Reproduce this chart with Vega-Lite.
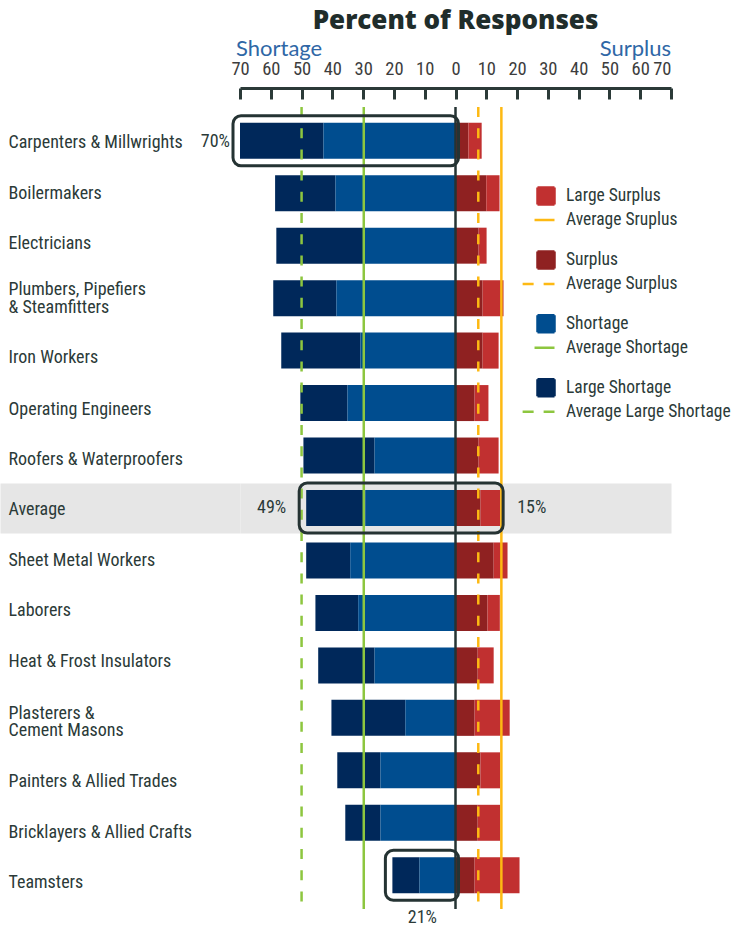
{
  "$schema": "https://vega.github.io/schema/vega-lite/v6.json",
  "width": 431,
  "height": 802,
  "autosize": {"type": "pad"},
  "padding": {"left": -25, "top": 8, "right": 0, "bottom": 0},
  "background": "white",
  "config": {"view": {"stroke": null}, "font": "Roboto Condensed, Roboto"},
  "title": {"text": "Percent of Responses", "font": "Open Sans", "fontWeight": 800, "fontSize": 26, "color": "#1f2d2b", "anchor": "middle", "frame": "group", "offset": 4},
  "datasets": {
    "bars": [
      {"occupation": "Carpenters & Millwrights", "category": "Large Shortage", "value": -27.1},
      {"occupation": "Carpenters & Millwrights", "category": "Shortage", "value": -42.9},
      {"occupation": "Carpenters & Millwrights", "category": "Surplus", "value": 4.2},
      {"occupation": "Carpenters & Millwrights", "category": "Large Surplus", "value": 4.3},
      {"occupation": "Boilermakers", "category": "Large Shortage", "value": -19.6},
      {"occupation": "Boilermakers", "category": "Shortage", "value": -39.0},
      {"occupation": "Boilermakers", "category": "Surplus", "value": 10.0},
      {"occupation": "Boilermakers", "category": "Large Surplus", "value": 4.3},
      {"occupation": "Electricians", "category": "Large Shortage", "value": -28.3},
      {"occupation": "Electricians", "category": "Shortage", "value": -29.9},
      {"occupation": "Electricians", "category": "Surplus", "value": 7.5},
      {"occupation": "Electricians", "category": "Large Surplus", "value": 2.6},
      {"occupation": "Plumbers, Pipefiers & Steamfitters", "category": "Large Shortage", "value": -20.5},
      {"occupation": "Plumbers, Pipefiers & Steamfitters", "category": "Shortage", "value": -38.7},
      {"occupation": "Plumbers, Pipefiers & Steamfitters", "category": "Surplus", "value": 8.8},
      {"occupation": "Plumbers, Pipefiers & Steamfitters", "category": "Large Surplus", "value": 6.8},
      {"occupation": "Iron Workers", "category": "Large Shortage", "value": -25.7},
      {"occupation": "Iron Workers", "category": "Shortage", "value": -30.9},
      {"occupation": "Iron Workers", "category": "Surplus", "value": 8.8},
      {"occupation": "Iron Workers", "category": "Large Surplus", "value": 5.2},
      {"occupation": "Operating Engineers", "category": "Large Shortage", "value": -15.3},
      {"occupation": "Operating Engineers", "category": "Shortage", "value": -35.1},
      {"occupation": "Operating Engineers", "category": "Surplus", "value": 6.2},
      {"occupation": "Operating Engineers", "category": "Large Surplus", "value": 4.5},
      {"occupation": "Roofers & Waterproofers", "category": "Large Shortage", "value": -23.1},
      {"occupation": "Roofers & Waterproofers", "category": "Shortage", "value": -26.3},
      {"occupation": "Roofers & Waterproofers", "category": "Surplus", "value": 7.5},
      {"occupation": "Roofers & Waterproofers", "category": "Large Surplus", "value": 6.5},
      {"occupation": "Average", "category": "Large Shortage", "value": -19.2},
      {"occupation": "Average", "category": "Shortage", "value": -29.3},
      {"occupation": "Average", "category": "Surplus", "value": 8.1},
      {"occupation": "Average", "category": "Large Surplus", "value": 6.4},
      {"occupation": "Sheet Metal Workers", "category": "Large Shortage", "value": -14.3},
      {"occupation": "Sheet Metal Workers", "category": "Shortage", "value": -34.2},
      {"occupation": "Sheet Metal Workers", "category": "Surplus", "value": 12.4},
      {"occupation": "Sheet Metal Workers", "category": "Large Surplus", "value": 4.5},
      {"occupation": "Laborers", "category": "Large Shortage", "value": -13.9},
      {"occupation": "Laborers", "category": "Shortage", "value": -31.6},
      {"occupation": "Laborers", "category": "Surplus", "value": 10.4},
      {"occupation": "Laborers", "category": "Large Surplus", "value": 4.0},
      {"occupation": "Heat & Frost Insulators", "category": "Large Shortage", "value": -18.3},
      {"occupation": "Heat & Frost Insulators", "category": "Shortage", "value": -26.3},
      {"occupation": "Heat & Frost Insulators", "category": "Surplus", "value": 7.2},
      {"occupation": "Heat & Frost Insulators", "category": "Large Surplus", "value": 5.2},
      {"occupation": "Plasterers & Cement Masons", "category": "Large Shortage", "value": -24.0},
      {"occupation": "Plasterers & Cement Masons", "category": "Shortage", "value": -16.3},
      {"occupation": "Plasterers & Cement Masons", "category": "Surplus", "value": 6.2},
      {"occupation": "Plasterers & Cement Masons", "category": "Large Surplus", "value": 11.4},
      {"occupation": "Painters & Allied Trades", "category": "Large Shortage", "value": -14.0},
      {"occupation": "Painters & Allied Trades", "category": "Shortage", "value": -24.4},
      {"occupation": "Painters & Allied Trades", "category": "Surplus", "value": 8.1},
      {"occupation": "Painters & Allied Trades", "category": "Large Surplus", "value": 6.4},
      {"occupation": "Bricklayers & Allied Crafts", "category": "Large Shortage", "value": -11.4},
      {"occupation": "Bricklayers & Allied Crafts", "category": "Shortage", "value": -24.4},
      {"occupation": "Bricklayers & Allied Crafts", "category": "Surplus", "value": 7.2},
      {"occupation": "Bricklayers & Allied Crafts", "category": "Large Surplus", "value": 7.3},
      {"occupation": "Teamsters", "category": "Large Shortage", "value": -8.8},
      {"occupation": "Teamsters", "category": "Shortage", "value": -11.7},
      {"occupation": "Teamsters", "category": "Surplus", "value": 6.2},
      {"occupation": "Teamsters", "category": "Large Surplus", "value": 14.6}
    ],
    "lines": [
      {"category": "Average Large Shortage", "value": -50, "dashed": true},
      {"category": "Average Shortage", "value": -29.8, "dashed": false},
      {"category": "Average Surplus", "value": 7.4, "dashed": true},
      {"category": "Average Sruplus", "value": 14.9, "dashed": false}
    ],
    "boxes": [
      {"occupation": "Carpenters & Millwrights", "from": -70, "to": 0},
      {"occupation": "Average", "from": -48.5, "to": 14.5},
      {"occupation": "Teamsters", "from": -20.5, "to": 0}
    ],
    "labels": [
      {"occupation": "Carpenters & Millwrights", "value": -70, "label": "70%"},
      {"occupation": "Average", "value": -48.5, "label": "49%"},
      {"occupation": "Average", "value": 14.5, "label": "15%"},
      {"occupation": "Teamsters", "value": -20.5, "label": "21%"}
    ],
    "sides": [
      {"label": "Shortage", "value": -70},
      {"label": "Surplus", "value": 70}
    ]
  },
  "layer": [
    {
      "data": {"name": "bars"},
      "mark": {"type": "bar"},
      "encoding": {
        "y": {
          "field": "occupation", "type": "nominal",
          "scale": {
            "domain": ["Carpenters & Millwrights", "Boilermakers", "Electricians", "Plumbers, Pipefiers & Steamfitters", "Iron Workers", "Operating Engineers", "Roofers & Waterproofers", "Average", "Sheet Metal Workers", "Laborers", "Heat & Frost Insulators", "Plasterers & Cement Masons", "Painters & Allied Trades", "Bricklayers & Allied Crafts", "Teamsters"],
            "paddingInner": 0.314, "paddingOuter": 0.3
          },
          "axis": {
            "title": null, "domain": false, "zindex": 0, "bandPosition": 0.5,
            "ticks": true, "tickSize": 240, "tickWidth": 50,
            "tickColor": {"condition": {"test": "datum.value === 'Average'", "value": "#e6e6e6"}, "value": "transparent"},
            "grid": true, "gridWidth": 50,
            "gridColor": {"condition": {"test": "datum.value === 'Average'", "value": "#e6e6e6"}, "value": "transparent"},
            "labelAlign": "left", "labelPadding": -8, "labelLimit": 0, "labelOverlap": false,
            "labelFontSize": 18, "labelColor": "#2b3a38",
            "labelLineHeight": 17.6,
            "labelOffset": {"condition": [
              {"test": "datum.value === 'Carpenters & Millwrights'", "value": 2},
              {"test": "datum.value === 'Electricians'", "value": -2},
              {"test": "datum.value === 'Plumbers, Pipefiers & Steamfitters'", "value": -8},
              {"test": "datum.value === 'Iron Workers'", "value": 7},
              {"test": "datum.value === 'Operating Engineers'", "value": 7},
              {"test": "datum.value === 'Roofers & Waterproofers'", "value": 4.5},
              {"test": "datum.value === 'Average'", "value": 2},
              {"test": "datum.value === 'Laborers'", "value": -2},
              {"test": "datum.value === 'Heat & Frost Insulators'", "value": -3.5},
              {"test": "datum.value === 'Plasterers & Cement Masons'", "value": -4},
              {"test": "datum.value === 'Painters & Allied Trades'", "value": 11.5},
              {"test": "datum.value === 'Bricklayers & Allied Crafts'", "value": 10},
              {"test": "datum.value === 'Teamsters'", "value": 8}
            ], "value": 0.5},
            "labelExpr": "datum.label === 'Plumbers, Pipefiers & Steamfitters' ? ['Plumbers, Pipefiers', '& Steamfitters'] : datum.label === 'Plasterers & Cement Masons' ? ['Plasterers &', 'Cement Masons'] : datum.label"
          }
        },
        "x": {
          "field": "value", "type": "quantitative", "stack": "zero",
          "scale": {"domain": [-70, 70], "nice": false},
          "axis": {
            "orient": "top", "title": null, "grid": false, "zindex": 1,
            "values": [-70, -60, -50, -40, -30, -20, -10, 0, 10, 20, 30, 40, 50, 60, 70],
            "tickCount": 20,
            "labelExpr": "abs(datum.value)",
            "labelFlush": false, "labelOverlap": false,
            "labelAlign": {"condition": {"test": "datum.value === 70", "value": "right"}, "value": "center"},
            "domainColor": "#2b3a38", "domainWidth": 3,
            "tickColor": "#2b3a38", "tickWidth": 3, "tickSize": -11,
            "labelPadding": 21, "offset": 19,
            "labelFontSize": 18.5, "labelColor": "#3d3d3d"
          }
        },
        "color": {
          "field": "category", "type": "nominal",
          "scale": {
            "domain": ["Large Surplus", "Average Sruplus", " ", "Surplus", "Average Surplus", "  ", "Shortage", "Average Shortage", "   ", "Large Shortage", "Average Large Shortage"],
            "range": ["#c13030", "#fdb913", "#ffffff", "#8f2121", "#fdb913", "#ffffff", "#004d8f", "#8dc63f", "#ffffff", "#00285a", "#8dc63f"]
          },
          "legend": {
            "orient": "none", "legendX": 296, "legendY": 79, "title": null, "padding": 0,
            "symbolSize": 289, "symbolStrokeWidth": 2.5,
            "labelFontSize": 17.5, "labelColor": "#2b3a38",
            "labelOffset": 10, "labelLimit": 0, "rowPadding": -0.1,
            "encoding": {
              "symbols": {
                "shape": {"value": {"expr": "indexof(['Large Surplus','Surplus','Shortage','Large Shortage'], datum.value) >= 0 ? 'square' : (indexof(['Average Surplus','Average Large Shortage'], datum.value) >= 0 ? 'M-2.75,0H1' : 'M-1.35,0H1')"}},
                "fill": {"value": {"expr": "indexof(['Large Surplus','Surplus','Shortage','Large Shortage'], datum.value) >= 0 ? scale('color', datum.value) : 'transparent'"}},
                "stroke": {"value": {"expr": "indexof(['Average Sruplus','Average Surplus','Average Shortage','Average Large Shortage'], datum.value) >= 0 ? scale('color', datum.value) : 'transparent'"}},
                "strokeDash": {"value": {"expr": "indexof(['Average Surplus','Average Large Shortage'], datum.value) >= 0 ? [11, 10] : [1, 0]"}},
                "strokeWidth": {"value": 2.5},
                "size": {"value": {"expr": "trim(datum.value) === '' ? 1 : 289"}},
                "opacity": {"value": 1}
              },
              "labels": {
                "fontSize": {"value": {"expr": "trim(datum.label) === '' ? 13 : 17.5"}}
              }
            }
          }
        },
        "order": {"field": "category", "sort": "descending"}
      }
    },
    {
      "data": {"name": "lines"},
      "transform": [{"filter": "!datum.dashed"}],
      "mark": {"type": "rule", "strokeWidth": 2.5},
      "encoding": {
        "x": {"field": "value", "type": "quantitative"},
        "color": {"field": "category", "type": "nominal"}
      }
    },
    {
      "data": {"name": "lines"},
      "transform": [{"filter": "datum.dashed"}],
      "mark": {"type": "rule", "strokeWidth": 2.5, "strokeDash": [10, 11.2]},
      "encoding": {
        "x": {"field": "value", "type": "quantitative"},
        "color": {"field": "category", "type": "nominal"}
      }
    },
    {
      "data": {"values": [{"value": 0}]},
      "mark": {"type": "rule", "strokeWidth": 2.5, "color": "#253333"},
      "encoding": {
        "x": {"field": "value", "type": "quantitative"}
      }
    },
    {
      "data": {"name": "boxes"},
      "mark": {"type": "bar", "fill": "transparent", "stroke": "#253333", "strokeWidth": 3, "cornerRadius": 8, "height": {"band": 1.39}, "xOffset": -7, "x2Offset": 3},
      "encoding": {
        "y": {"field": "occupation", "type": "nominal"},
        "x": {"field": "from", "type": "quantitative"},
        "x2": {"field": "to"}
      }
    },
    {
      "data": {"name": "labels"},
      "transform": [{"filter": "datum.label === '70%'"}],
      "mark": {"type": "text", "align": "right", "baseline": "middle", "dx": -10, "dy": 1.5, "fontSize": 18, "color": "#2b3a38"},
      "encoding": {
        "y": {"field": "occupation", "type": "nominal"},
        "x": {"field": "value", "type": "quantitative"},
        "text": {"field": "label"}
      }
    },
    {
      "data": {"name": "labels"},
      "transform": [{"filter": "datum.label === '49%'"}],
      "mark": {"type": "text", "align": "right", "baseline": "middle", "dx": -20, "fontSize": 18, "color": "#2b3a38"},
      "encoding": {
        "y": {"field": "occupation", "type": "nominal"},
        "x": {"field": "value", "type": "quantitative"},
        "text": {"field": "label"}
      }
    },
    {
      "data": {"name": "labels"},
      "transform": [{"filter": "datum.value > 0"}],
      "mark": {"type": "text", "align": "left", "baseline": "middle", "dx": 17, "fontSize": 18, "color": "#2b3a38"},
      "encoding": {
        "y": {"field": "occupation", "type": "nominal"},
        "x": {"field": "value", "type": "quantitative"},
        "text": {"field": "label"}
      }
    },
    {
      "data": {"name": "labels"},
      "transform": [{"filter": "datum.occupation === 'Teamsters'"}],
      "mark": {"type": "text", "align": "center", "baseline": "middle", "dx": 30, "dy": 43, "fontSize": 18, "color": "#2b3a38"},
      "encoding": {
        "y": {"field": "occupation", "type": "nominal"},
        "x": {"field": "value", "type": "quantitative"},
        "text": {"field": "label"}
      }
    },
    {
      "data": {"name": "sides"},
      "transform": [{"filter": "datum.value < 0"}],
      "mark": {"type": "text", "align": "left", "baseline": "alphabetic", "dx": -4, "dy": -51, "font": "Lato", "fontSize": 22, "color": "#2f67a6"},
      "encoding": {
        "x": {"field": "value", "type": "quantitative"},
        "y": {"value": 0},
        "text": {"field": "label"}
      }
    },
    {
      "data": {"name": "sides"},
      "transform": [{"filter": "datum.value > 0"}],
      "mark": {"type": "text", "align": "right", "baseline": "alphabetic", "dy": -51, "font": "Lato", "fontSize": 22, "color": "#2f67a6"},
      "encoding": {
        "x": {"field": "value", "type": "quantitative"},
        "y": {"value": 0},
        "text": {"field": "label"}
      }
    }
  ]
}
